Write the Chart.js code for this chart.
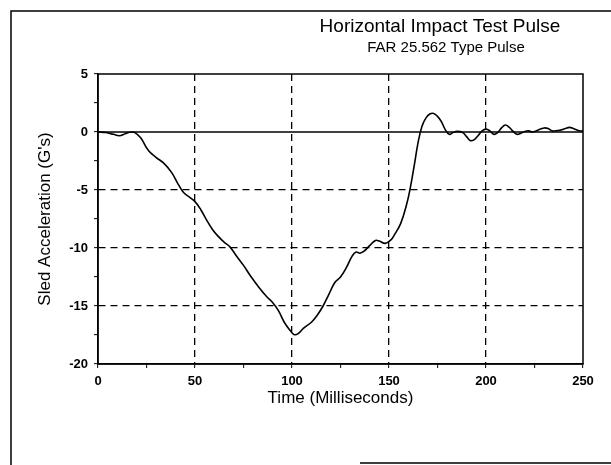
<!DOCTYPE html>
<html lang="en">
<head>
    <meta charset="UTF-8">
    <title>Horizontal Impact Test Pulse</title>
    <style>
        html, body { margin: 0; padding: 0; background: #fff; }
        #wrap { position: relative; width: 611px; height: 465px; }
    </style>
    <script src="https://cdn.jsdelivr.net/npm/chart.js@4.4.2/dist/chart.umd.min.js"></script>
</head>
<body>
    <div id="wrap"><canvas id="pulseChart" width="611" height="465"></canvas></div>

    <script>
        // time (ms) and sled acceleration (G's)
        const timeMs = [0, 4, 8, 11, 14, 17, 19, 22, 26, 30, 34, 38, 41, 44, 47, 50, 53, 56, 59, 62,
            65, 68, 71, 75, 79, 83, 87, 90, 93, 96, 99, 101, 103, 106, 110, 113, 116, 119, 122, 125,
            128, 131, 133, 135, 137, 140, 143, 145, 148, 151, 153, 156, 159, 161, 163, 165, 167, 169, 171, 173,
            175, 177, 179, 181, 183, 185, 188, 190, 192, 194, 196, 198, 200, 202, 204, 206, 208, 210, 212, 214,
            216, 218, 220, 222, 224, 226, 228, 230, 232, 234, 236, 238, 241, 243, 245, 248, 250];
        const accelG = [0, -0.05, -0.2, -0.32, -0.15, 0, -0.05, -0.5, -1.6, -2.2, -2.7, -3.5, -4.4, -5.2, -5.6, -6.0, -6.7, -7.6, -8.4, -9.0,
            -9.5, -9.9, -10.6, -11.5, -12.5, -13.4, -14.2, -14.7, -15.4, -16.4, -17.1, -17.45, -17.4, -16.9, -16.4, -15.8, -15.0, -14.0, -13.0, -12.5,
            -11.7, -10.7, -10.35, -10.45, -10.3, -9.8, -9.35, -9.4, -9.6, -9.3, -8.8, -7.9, -6.3, -4.8, -2.9, -0.9, 0.5, 1.2, 1.55, 1.6,
            1.35, 0.9, 0.2, -0.2, -0.05, 0.05, -0.05, -0.4, -0.75, -0.65, -0.3, 0.1, 0.25, 0.1, -0.2, -0.05, 0.35, 0.6, 0.4, 0.05,
            -0.2, -0.1, 0.05, 0.1, 0, 0.1, 0.25, 0.35, 0.3, 0.1, 0.1, 0.15, 0.3, 0.4, 0.3, 0.1, 0.1];

        const xTicks = [0, 50, 100, 150, 200, 250];
        const yTicks = [5, 0, -5, -10, -15, -20];

        const FONT = '"Liberation Sans", Arial, sans-serif';

        // frame, zero line and the two title lines
        const decorPlugin = {
            id: 'decor',
            afterDraw(chart) {
                const ctx = chart.ctx;
                const a = chart.chartArea;
                const y0 = chart.scales.y.getPixelForValue(0);
                ctx.save();
                ctx.strokeStyle = '#000';
                ctx.lineWidth = 1.5;
                ctx.strokeRect(a.left, a.top, a.right - a.left, a.bottom - a.top);
                ctx.beginPath();
                ctx.moveTo(a.left, y0);
                ctx.lineTo(a.right, y0);
                ctx.stroke();

                // outer page border
                ctx.beginPath();
                ctx.moveTo(11, 465);
                ctx.lineTo(11, 11);
                ctx.lineTo(611, 11);
                ctx.moveTo(360, 463);
                ctx.lineTo(611, 463);
                ctx.stroke();

                ctx.fillStyle = '#000';
                ctx.textAlign = 'center';
                ctx.textBaseline = 'middle';
                ctx.font = '19px ' + FONT;
                ctx.fillText('Horizontal Impact Test Pulse', 440, 27);
                ctx.font = '15px ' + FONT;
                ctx.fillText('FAR 25.562 Type Pulse', 446, 48);
                ctx.restore();
            }
        };

        const gridColor = (ctx, edges, major) => {
            const v = ctx.tick ? ctx.tick.value : null;
            if (v === null || edges.includes(v)) return 'rgba(0,0,0,0)';
            return major(v) ? '#000' : 'rgba(0,0,0,0)';
        };

        new Chart(document.getElementById('pulseChart'), {
            type: 'line',
            data: {
                datasets: [{
                    data: timeMs.map((t, i) => ({ x: t, y: accelG[i] })),
                    borderColor: '#000',
                    borderWidth: 1.6,
                    pointRadius: 0,
                    tension: 0.4,
                    fill: false
                }]
            },
            options: {
                responsive: false,
                animation: false,
                layout: { padding: { top: 74, right: 28, left: 0, bottom: 0 } },
                plugins: { legend: { display: false }, tooltip: { enabled: false } },
                scales: {
                    x: {
                        type: 'linear',
                        min: 0, max: 250,
                        afterFit: s => { s.height = 101; },
                        afterBuildTicks: s => { s.ticks = [0, 25, 50, 75, 100, 125, 150, 175, 200, 225, 250].map(v => ({ value: v })); },
                        ticks: {
                            autoSkip: false,
                            maxRotation: 0,
                            padding: 6,
                            color: '#000',
                            font: { family: FONT, size: 13, weight: 'bold' },
                            callback: v => xTicks.includes(v) ? String(v) : ''
                        },
                        grid: {
                            color: c => gridColor(c, [0, 250], v => v % 50 === 0),
                            lineWidth: 1.3,
                            tickColor: '#000',
                            tickLength: 4,
                            tickWidth: 1
                        },
                        border: { display: true, color: '#000', width: 1.5, dash: [7, 5] },
                        title: {
                            display: true,
                            text: 'Time (Milliseconds)',
                            color: '#000',
                            font: { family: FONT, size: 17 },
                            padding: { top: 0, bottom: 56 }
                        }
                    },
                    y: {
                        type: 'linear',
                        min: -20, max: 5,
                        afterFit: s => { s.width = 98; },
                        afterBuildTicks: s => {
                            const out = [];
                            for (let v = 5; v >= -20; v -= 2.5) out.push({ value: v });
                            s.ticks = out;
                        },
                        ticks: {
                            autoSkip: false,
                            padding: 6,
                            color: '#000',
                            font: { family: FONT, size: 13, weight: 'bold' },
                            callback: v => yTicks.includes(v) ? String(v) : ''
                        },
                        grid: {
                            color: c => gridColor(c, [5, 0, -20], v => v % 5 === 0),
                            lineWidth: 1.3,
                            tickColor: '#000',
                            tickLength: 4,
                            tickWidth: 1
                        },
                        border: { display: true, color: '#000', width: 1.5, dash: [7, 5] },
                        title: {
                            display: true,
                            text: "Sled Acceleration (G's)",
                            color: '#000',
                            font: { family: FONT, size: 17 },
                            padding: { top: 35, bottom: 0 }
                        }
                    }
                }
            },
            plugins: [decorPlugin]
        });
    </script>
</body>
</html>
